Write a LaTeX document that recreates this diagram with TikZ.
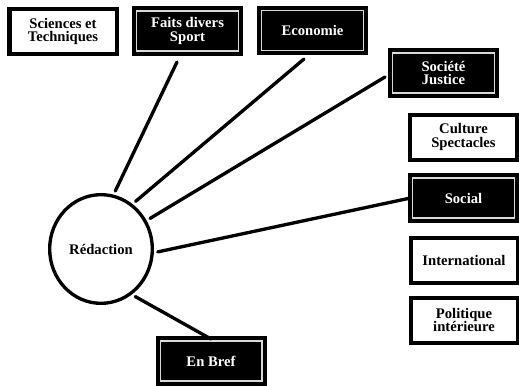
\documentclass[tikz,border=0pt]{standalone}
\usepackage{fontspec}
\setmainfont{Liberation Serif}
\usetikzlibrary{shapes.geometric}

\begin{document}
\begin{tikzpicture}[x=0.75pt, y=-0.75pt,
    every node/.style={font=\fontsize{11}{10}\selectfont\bfseries, align=center},
    lbox/.style={rectangle, draw=black, fill=white, line width=3pt,
        minimum width=80.25pt, minimum height=33.75pt, inner sep=0pt},
    dbox/.style={rectangle, draw=black, double=white!85!black,
        double distance=0.8pt, fill=black, text=white, line width=3pt,
        minimum width=76.45pt, minimum height=30pt, inner sep=0pt},
    hub/.style={ellipse, draw, line width=2.5pt,
        minimum width=77pt, minimum height=81.5pt},
    link/.style={line width=2.5pt, line cap=round, shorten <=3pt}]
    \useasboundingbox (0,0) rectangle (519,386);
    % the rubriques
    \node[lbox](sci) at (63,31.5) {Sciences et\\Techniques};
    \node[dbox](faits) at (187.5,31) {Faits divers\\Sport};
    \node[dbox](eco) at (312.5,30.5) {Economie};
    \node[dbox](soc) at (443.5,73) {Société\\Justice};
    \node[lbox](cult) at (463.5,137) {Culture\\Spectacles};
    \node[dbox](social) at (463.5,198) {Social};
    \node[lbox](inter) at (464,260.5) {International};
    \node[lbox](poli) at (464,320) {Politique\\intérieure};
    \node[dbox](bref) at (211,361) {En Bref};
    \node[hub](red) at (101,249) {Rédaction};
    \coordinate (faits-end) at (177,62);
    \coordinate (eco-end) at (304,59);
    \coordinate (soc-end) at (385,77);
    \draw[link] (red.77) -- (faits-end);
    \draw[link] (red.55) -- (eco-end);
    \draw[link] (red.32) -- (soc-end);
    \draw[link] (red.-4) -- (social.west);
    \draw[link] (red.-56) -- (bref.north);
\end{tikzpicture}
\end{document}
